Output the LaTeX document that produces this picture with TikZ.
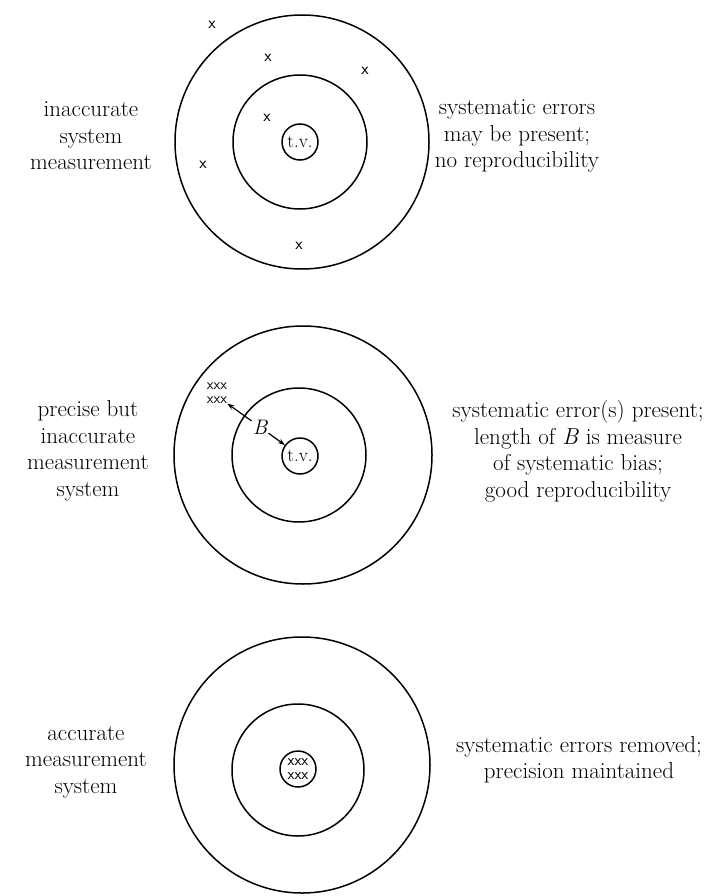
\documentclass[tikz,border=0pt]{standalone}
\usetikzlibrary{arrows.meta}
\begin{document}
\begin{tikzpicture}[x=1pt,y=-1pt,
  ring/.style={draw, line width=1.5pt},
  lbl/.style={align=center, font=\fontsize{23}{26.5}\selectfont, inner sep=0pt},
  tvnode/.style={draw, circle, line width=1.5pt, minimum size=36pt, inner sep=0pt, font=\fontsize{19}{19}\selectfont},
  xmark/.style={font=\fontsize{15}{14}\selectfont\sffamily, inner sep=0pt},
  bigx/.style={font=\fontsize{17}{17}\selectfont\sffamily, inner sep=0pt},
  arr/.style={-{Stealth[length=7pt,width=5pt]}, line width=1.2pt}
]
\useasboundingbox (0,0) rectangle (724,896);

% ---------- top target ----------
\draw[ring] (302,142) circle[radius=127pt];
\draw[ring] (300,142) circle[radius=67pt];
\node[tvnode] (tv1) at (300,142) {t.v.};
\node[bigx] (x1) at (212,25) {x};
\node[bigx] (x2) at (268,58) {x};
\node[bigx] (x3) at (365,71) {x};
\node[bigx] (x4) at (267,118) {x};
\node[bigx] (x5) at (203,165) {x};
\node[bigx] (x6) at (299,246) {x};
\node[lbl] (l1) at (91,136) {inaccurate\\system\\measurement};
\node[lbl] (r1) at (517,136) {systematic errors\\may be present;\\no reproducibility};

% ---------- middle target ----------
\draw[ring] (303,455) circle[radius=129pt];
\draw[ring] (299,455) circle[radius=67pt];
\node[tvnode] (tv2) at (300,456) {t.v.};
\node[xmark] (xs2a) at (217,386) {xxx};
\node[xmark] (xs2b) at (217,400) {xxx};
\node[font=\fontsize{21}{21}\selectfont\itshape, inner sep=1pt] (B) at (260,427) {B};
\draw[arr] (B) -- (xs2b.south east);
\draw[arr] (B) -- (tv2);
\node[lbl] (l2) at (88,451) {precise but\\inaccurate\\measurement\\system};
\node[lbl] (r2) at (578,451) {systematic error(s) present;\\length of \textit{B} is measure\\of systematic bias;\\good reproducibility};

% ---------- bottom target ----------
\draw[ring] (302,765) circle[radius=128pt];
\draw[ring] (298,770) circle[radius=66pt];
\node[tvnode, align=center, font=\fontsize{16}{13.5}\selectfont\sffamily] (tv3) at (298,769) {xxx\\xxx};
\node[lbl] (l3) at (86,762) {accurate\\measurement\\system};
\node[lbl] (r3) at (579,760) {systematic errors removed;\\precision maintained};
\end{tikzpicture}
\end{document}
